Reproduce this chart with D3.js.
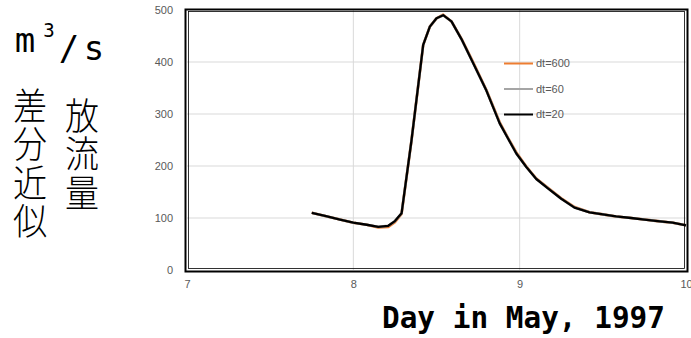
<!DOCTYPE html>
<html>
<head>
<meta charset="utf-8">
<script src="https://cdn.jsdelivr.net/npm/d3@7"></script>
<style>
 body { margin: 0; background: #fff; }
 svg { display: block; }
</style>
</head>
<body>
<div id="chart"></div>
<script>
// day of May 1997 (fractional)
var days = [7.75, 7.83, 7.92, 8.0, 8.08, 8.15, 8.21, 8.25, 8.29, 8.35, 8.42, 8.46, 8.5, 8.54, 8.59, 8.65, 8.72, 8.8, 8.88, 8.93, 8.98, 9.04, 9.1, 9.17, 9.25, 9.33, 9.42, 9.5, 9.58, 9.67, 9.75, 9.83, 9.92, 10.0];
// discharge m3/s for each time step
var q600 = [110, 104, 97, 91, 87, 82, 83, 92, 108, 250, 433, 468, 484, 491, 478, 445, 400, 346, 284, 254, 226, 199, 176, 158, 138, 121, 111, 107, 103, 100, 97, 94, 91, 86];
var q60  = [110, 104, 97, 91, 87, 83, 85, 94, 109, 250, 433, 468, 484, 490, 478, 444, 398, 345, 282, 253, 224, 198, 175, 157, 137, 120, 111, 107, 103, 100, 97, 94, 91, 86];
var q20  = [110, 104, 97, 91, 87, 83, 85, 94, 109, 250, 433, 468, 484, 490, 478, 444, 398, 345, 282, 253, 224, 198, 175, 157, 137, 120, 111, 107, 103, 100, 97, 94, 91, 86];
var seriesNames = ['dt=600', 'dt=60', 'dt=20'];
var seriesColors = ['#ed7d31', '#a5a5a5', '#000000'];
var xTicks = [7, 8, 9, 10];
var yTicks = [0, 100, 200, 300, 400, 500];

var W = 691, H = 338;
var svg = d3.select('#chart').append('svg')
  .attr('width', W).attr('height', H);

var x = d3.scaleLinear().domain([7, 10]).range([187, 686]);
var y = d3.scaleLinear().domain([0, 500]).range([270, 10]);

// gridlines
svg.append('g').selectAll('line.h')
  .data(yTicks.filter(function(d) { return d > 0 && d < 500; }))
  .enter().append('line')
  .attr('x1', x(7)).attr('x2', x(10))
  .attr('y1', function(d) { return y(d); })
  .attr('y2', function(d) { return y(d); })
  .attr('stroke', '#d9d9d9').attr('stroke-width', 1);
svg.append('g').selectAll('line.v')
  .data(xTicks.filter(function(d) { return d > 7 && d < 10; }))
  .enter().append('line')
  .attr('x1', function(d) { return x(d); })
  .attr('x2', function(d) { return x(d); })
  .attr('y1', y(500)).attr('y2', y(0))
  .attr('stroke', '#d9d9d9').attr('stroke-width', 1);

// axes labels via d3 axes, domain/ticks hidden
var yAxis = svg.append('g')
  .attr('transform', 'translate(' + 173 + ',0)')
  .call(d3.axisLeft(y).tickValues(yTicks).tickSize(0).tickPadding(0));
yAxis.select('.domain').remove();
yAxis.selectAll('text').attr('fill', '#595959')
  .style('font-family', 'Liberation Sans, Arial, sans-serif').style('font-size', '11px');

var xAxis = svg.append('g')
  .attr('transform', 'translate(0,' + 280 + ')')
  .call(d3.axisBottom(x).tickValues(xTicks).tickFormat(d3.format('d')).tickSize(0).tickPadding(0));
xAxis.select('.domain').remove();
xAxis.selectAll('text').attr('fill', '#595959')
  .style('font-family', 'Liberation Sans, Arial, sans-serif').style('font-size', '11px');

// series lines
var line = d3.line()
  .x(function(d) { return x(d[0]); })
  .y(function(d) { return y(d[1]); });
var allSeries = [q600, q60, q20];
allSeries.forEach(function(vals, i) {
  svg.append('path')
    .datum(days.map(function(d, j) { return [d, vals[j]]; }))
    .attr('d', line)
    .attr('fill', 'none')
    .attr('stroke', seriesColors[i])
    .attr('stroke-width', i == 2 ? 2.3 : 2.6)
    .attr('stroke-linejoin', 'round');
});

// frame (double line like the picture)
svg.append('rect')
  .attr('x', 185.5).attr('y', 9.5)
  .attr('width', 502).attr('height', 262)
  .attr('fill', 'none').attr('stroke', '#000').attr('stroke-width', 2);
svg.append('rect')
  .attr('x', 188.5).attr('y', 11.5)
  .attr('width', 496).attr('height', 257)
  .attr('fill', 'none').attr('stroke', '#000').attr('stroke-width', 0.8);

// legend
var legend = svg.append('g').selectAll('g')
  .data(seriesNames).enter().append('g')
  .attr('transform', function(d, i) { return 'translate(504,' + (63.5 + i * 25.5) + ')'; });
legend.append('line')
  .attr('x1', 0).attr('x2', 29)
  .attr('stroke', function(d, i) { return seriesColors[i]; })
  .attr('stroke-width', 2);
legend.append('text')
  .attr('x', 32).attr('dy', '0.35em')
  .attr('fill', '#595959')
  .style('font-family', 'Liberation Sans, Arial, sans-serif').style('font-size', '11px')
  .text(function(d) { return d; });

// unit label m3/s
var mono = 'DejaVu Sans Mono, monospace';
svg.append('text').attr('x', 25).attr('y', 52).attr('text-anchor', 'middle')
  .style('font-family', mono).style('font-size', '34px').text('m');
svg.append('text').attr('x', 49).attr('y', 37).attr('text-anchor', 'middle')
  .style('font-family', mono).style('font-size', '19px').text('3');
svg.append('text').attr('x', 69).attr('y', 60).attr('text-anchor', 'middle')
  .style('font-family', mono).style('font-size', '34px').text('/');
svg.append('text').attr('x', 94).attr('y', 60).attr('text-anchor', 'middle')
  .style('font-family', mono).style('font-size', '34px').text('s');

// vertical Japanese labels, one text per column
var cjk = 'Noto Sans CJK JP, sans-serif';
var cols = [{txt: '差分近似', x: 30, y: 87}, {txt: '放流量', x: 82, y: 97}];
svg.append('g').selectAll('text').data(cols).enter().append('text')
  .attr('transform', function(d) { return 'translate(' + d.x + ',' + d.y + ') scale(0.92,1)'; })
  .style('writing-mode', 'vertical-rl')
  .style('font-family', cjk).style('font-size', '37px').style('font-weight', 300)
  .style('letter-spacing', '1.5px')
  .text(function(d) { return d.txt; });

// x title
svg.append('text')
  .attr('x', 382).attr('y', 328)
  .attr('textLength', 283).attr('lengthAdjust', 'spacingAndGlyphs')
  .style('font-family', mono).style('font-size', '31px').style('font-weight', 'bold')
  .text('Day in May, 1997');
</script>
</body>
</html>
